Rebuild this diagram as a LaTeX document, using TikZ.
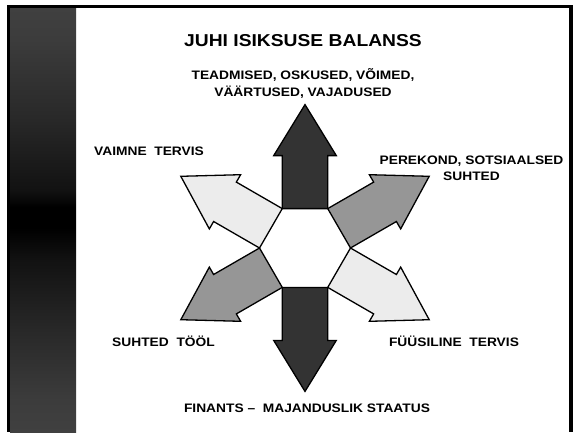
\documentclass[tikz,border=0pt]{standalone}
\usepackage{fontspec}
\setmainfont[FakeStretch=1.12]{Liberation Sans}

\definecolor{stripgray}{RGB}{64,64,64}
\definecolor{darkarrow}{RGB}{51,51,51}
\definecolor{midarrow}{RGB}{150,150,150}
\definecolor{lightarrow}{RGB}{236,236,236}

% dark band in the middle of the side strip
\pgfdeclareverticalshading{stripshade}{100bp}{
  rgb(0bp)=(0.251,0.251,0.251); rgb(25bp)=(0.251,0.251,0.251);
  rgb(28.8bp)=(0.235,0.235,0.235); rgb(37bp)=(0.157,0.157,0.157);
  rgb(45.3bp)=(0.07,0.07,0.07); rgb(49.1bp)=(0,0,0); rgb(51.5bp)=(0,0,0);
  rgb(53.5bp)=(0.07,0.07,0.07); rgb(61.8bp)=(0.157,0.157,0.157);
  rgb(71.2bp)=(0.235,0.235,0.235); rgb(75bp)=(0.251,0.251,0.251);
  rgb(100bp)=(0.251,0.251,0.251)}

\tikzset{
  titletext/.style={font=\bfseries\fontsize{17.2}{20}\selectfont, inner sep=0pt, anchor=base},
  lbl/.style={font=\bfseries\fontsize{12.3}{15}\selectfont, inner sep=0pt, anchor=base},
  bigarrow/.style={draw=black, line width=1.3pt, line join=miter}
}

\begin{document}
\begin{tikzpicture}[x=1pt,y=-1pt]
        \useasboundingbox (0,0) rectangle (573,432);
        % frame and side strip
        \fill[white] (0,0) rectangle (573,432);
        \fill[black] (7,5) rectangle (573,432);
        \fill[white] (10,8) rectangle (569,432);
        \shade[shading=stripshade] (10,8) rectangle (76,432);

        % six arrows round the hexagon
        \foreach \ang/\col in {0/darkarrow, -60/midarrow, -120/lightarrow,
                               180/darkarrow, 120/midarrow, 60/lightarrow}{
          \begin{scope}[shift={(305,248)}, rotate=\ang]
            \draw[bigarrow, fill=\col] (-22.75,-39.4) -- (-22.75,-92.4) -- (-31.3,-92.4)
              -- (0,-143.4) -- (31.3,-92.4) -- (22.75,-92.4) -- (22.75,-39.4) -- cycle;
          \end{scope}
        }

        \node[titletext] (title) at (303,46) {JUHI ISIKSUSE BALANSS};
        \node[lbl] (know1) at (303,79.3) {TEADMISED, OSKUSED, VÕIMED,};
        \node[lbl] (know2) at (303,96) {VÄÄRTUSED, VAJADUSED};
        \node[lbl] (mind) at (149,155) {VAIMNE~~TERVIS};
        \node[lbl] (family1) at (471.5,164) {PEREKOND, SOTSIAALSED};
        \node[lbl] (family2) at (471.5,180) {SUHTED};
        \node[lbl] (work) at (163.5,346) {SUHTED~~TÖÖL};
        \node[lbl] (body) at (454,346) {FÜÜSILINE~~TERVIS};
        \node[lbl] (money) at (307,412) {FINANTS –~~MAJANDUSLIK STAATUS};
    \end{tikzpicture}
\end{document}
